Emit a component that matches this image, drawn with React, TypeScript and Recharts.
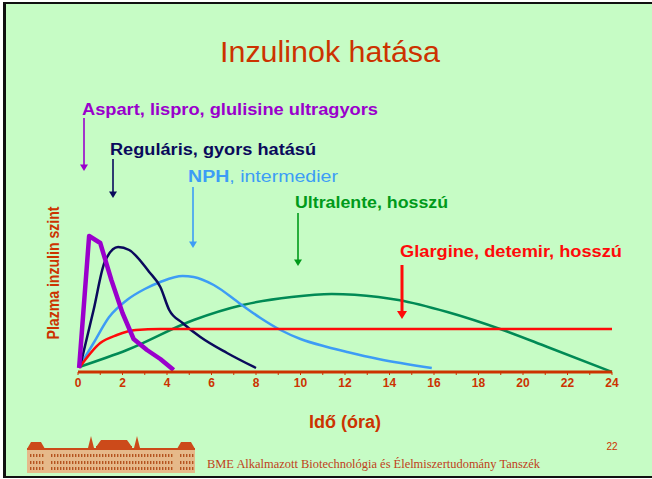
import React from 'react';
import { LineChart, Line, XAxis, YAxis } from 'recharts';

// Hours after injection (x) and plasma insulin level (arbitrary units, y)
const aspartHours = [0.05, 0.5, 1.0, 1.5, 2.0, 2.5, 3.1, 3.7, 4.3];
const aspartLevel = [4, 136, 129, 92, 59, 33, 22, 13, 2];

const regularHours = [0.1, 0.7, 1.2, 1.8, 2.3, 3.2, 3.7, 4.1, 4.7, 5.5, 6.7, 8.0];
const regularLevel = [6, 62, 110, 125, 122, 100, 85, 62, 49, 35, 19, 4];

const nphHours = [0.05, 0.7, 1.4, 2.2, 3.0, 3.7, 4.7, 5.2, 6.1, 7.3, 8.2, 9.1, 10.0, 11.2, 12.1, 13.5, 15.9];
const nphLevel = [5, 29, 55, 72, 83, 90, 96, 95, 87, 68, 54, 42, 33, 25, 20, 13, 4];

const ultraHours = [0.05, 2.2, 5.2, 7.4, 9.6, 11.4, 13.5, 14.4, 16.6, 19.1, 21.1, 24];
const ultraLevel = [5, 22, 52, 67, 75, 78, 75, 72, 60, 42, 25, 0];

const glargineHours = [0.05, 1.0, 1.75, 2.6, 3.7, 24];
const glargineLevel = [4, 29, 37, 42, 43, 43];

const hourTicks = [0, 1, 2, 3, 4, 5, 6, 7, 8, 9, 10, 11, 12, 13, 14, 15, 16, 17, 18, 19, 20, 21, 22, 23, 24];

const title = 'Inzulinok hatása';
const xLabel = 'Idő (óra)';
const yLabel = 'Plazma inzulin szint';
const footer = 'BME Alkalmazott Biotechnológia és Élelmiszertudomány Tanszék';
const pageNo = '22';

const zip = (hs: number[], vs: number[]) => hs.map((h, i) => ({ h, v: vs[i] }));

const aspartData = zip(aspartHours, aspartLevel);
const regularData = zip(regularHours, regularLevel);
const nphData = zip(nphHours, nphLevel);
const ultraData = zip(ultraHours, ultraLevel);
const glargineData = zip(glargineHours, glargineLevel);

const AXIS = '#cc3300';
const FONT = '"Liberation Sans", Arial, sans-serif';

function Arrow({ x, y1, y2, color, w = 1.6, head = 4 }: { x: number; y1: number; y2: number; color: string; w?: number; head?: number }) {
  return (
    <g>
      <line x1={x} y1={y1} x2={x} y2={y2 - head * 1.4} stroke={color} strokeWidth={w} />
      <polygon points={`${x - head},${y2 - head * 1.6} ${x + head},${y2 - head * 1.6} ${x},${y2}`} fill={color} />
    </g>
  );
}

function Building() {
  const facade = '#e6b98a';
  const roof = '#cc4a1a';
  const win = '#b5541f';
  const wins: React.ReactNode[] = [];
  const rows = [454, 461, 467];
  rows.forEach((ry, ri) => {
    for (let x = 30; x < 193; x += 3) {
      if (x > 44 && x < 50) continue;
      if (x > 172 && x < 178) continue;
      wins.push(<rect key={`${ri}-${x}`} x={x} y={ry} width={1.4} height={3} fill={win} />);
    }
  });
  return (
    <g>
      <rect x={27} y={449} width={168} height={24} fill={facade} />
      <rect x={27} y={448} width={168} height={2} fill={roof} />
      <polygon points="27,449 31,442 41,442 45,449" fill={roof} />
      <polygon points="177,449 181,442 191,442 195,449" fill={roof} />
      <polygon points="96,447 101,440 127,440 132,447" fill={roof} />
      <rect x={96} y={446} width={36} height={4} fill={roof} />
      <polygon points="88,448 91,436 94,448" fill={roof} />
      <polygon points="134,448 137,436 140,448" fill={roof} />
      {wins}
    </g>
  );
}

export default function App() {
  return (
    <div style={{ position: 'fixed', left: 0, top: 0, width: 652, height: 479, background: '#ffffff', overflow: 'hidden' }}>
      <svg width={652} height={479} style={{ position: 'absolute', left: 0, top: 0 }}>
        <rect x={0} y={0} width={652} height={479} fill="#ffffff" />
        <rect x={3} y={2} width={649} height={476} fill="#c6fcc5" />
        <rect x={3} y={2} width={649} height={2} fill="#111111" />
        <rect x={3} y={2} width={3} height={476} fill="#111111" />
        <rect x={3} y={476} width={649} height={2} fill="#111111" />
      </svg>
      <div style={{ position: 'absolute', left: 0, top: 0 }}>
        <LineChart width={652} height={479} margin={{ top: 166, right: 40, bottom: 77, left: 78 }}>
          <XAxis
            type="number"
            dataKey="h"
            domain={[0, 24]}
            ticks={hourTicks}
            interval={0}
            tickFormatter={(v: number) => (v % 2 === 0 ? String(v) : '')}
            height={30}
            tickSize={3}
            tickMargin={3}
            axisLine={{ stroke: AXIS, strokeWidth: 3 }}
            tickLine={{ stroke: AXIS, strokeWidth: 1 }}
            tick={{ fill: AXIS, fontSize: 12, fontWeight: 'bold', fontFamily: FONT }}
          />
          <YAxis
            type="number"
            domain={[0, 206]}
            width={0}
            tick={false}
            tickLine={false}
            axisLine={{ stroke: AXIS, strokeWidth: 3 }}
          />
          <Line data={ultraData} dataKey="v" type="monotone" stroke="#008a55" strokeWidth={2.5} dot={false} isAnimationActive={false} />
          <Line data={nphData} dataKey="v" type="monotone" stroke="#3d9cf5" strokeWidth={2.5} dot={false} isAnimationActive={false} />
          <Line data={regularData} dataKey="v" type="monotone" stroke="#0a0a5c" strokeWidth={2.5} dot={false} isAnimationActive={false} />
          <Line data={glargineData} dataKey="v" type="monotone" stroke="#ff0a0a" strokeWidth={2.5} dot={false} isAnimationActive={false} />
          <Line data={aspartData} dataKey="v" type="linear" stroke="#9a00cc" strokeWidth={4.5} strokeLinejoin="round" dot={false} isAnimationActive={false} />
        </LineChart>
      </div>
      <svg width={652} height={479} style={{ position: 'absolute', left: 0, top: 0, pointerEvents: 'none' }}>
        <text x={330} y={62} textAnchor="middle" fontSize={30} fill="#cc3300" fontFamily={FONT} textLength={220} lengthAdjust="spacingAndGlyphs">
          {title}
        </text>

        <text x={82} y={115} fontSize={16} fontWeight="bold" fill="#9a00cc" fontFamily={FONT} textLength={296} lengthAdjust="spacingAndGlyphs">
          Aspart, lispro, glulisine ultragyors
        </text>
        <Arrow x={84} y1={118} y2={171} color="#9a00cc" />

        <text x={110} y={155} fontSize={16} fontWeight="bold" fill="#0a0a5c" fontFamily={FONT} textLength={206} lengthAdjust="spacingAndGlyphs">
          Reguláris, gyors hatású
        </text>
        <Arrow x={113} y1={159} y2={198} color="#0a0a5c" />

        <text x={188} y={182} fontSize={16} fill="#3d9cf5" fontFamily={FONT} textLength={150} lengthAdjust="spacingAndGlyphs">
          <tspan fontWeight="bold">NPH</tspan>, intermedier
        </text>
        <Arrow x={193} y1={187} y2={248} color="#3d9cf5" />

        <text x={295} y={208} fontSize={16} fontWeight="bold" fill="#009a1a" fontFamily={FONT} textLength={153} lengthAdjust="spacingAndGlyphs">
          Ultralente, hosszú
        </text>
        <Arrow x={298} y1={213} y2={266} color="#009a1a" />

        <text x={400} y={257} fontSize={16} fontWeight="bold" fill="#ff0a0a" fontFamily={FONT} textLength={222} lengthAdjust="spacingAndGlyphs">
          Glargine, detemir, hosszú
        </text>
        <Arrow x={402} y1={265} y2={319} color="#ff0a0a" w={3} head={5} />

        <text
          x={59}
          y={273}
          transform="rotate(-90 59 273)"
          textAnchor="middle"
          fontSize={16}
          fontWeight="bold"
          fill={AXIS}
          fontFamily={FONT}
          textLength={133}
          lengthAdjust="spacingAndGlyphs"
        >
          {yLabel}
        </text>

        <text x={345} y={428} textAnchor="middle" fontSize={18} fontWeight="bold" fill={AXIS} fontFamily={FONT} textLength={72} lengthAdjust="spacingAndGlyphs">
          {xLabel}
        </text>

        <Building />

        <text x={207} y={468} fontSize={12} fill="#c0401a" fontFamily='"Liberation Serif", "Times New Roman", serif' textLength={333} lengthAdjust="spacingAndGlyphs">
          {footer}
        </text>
        <text x={612} y={450} textAnchor="middle" fontSize={10} fill="#cc3300" fontFamily={FONT}>
          {pageNo}
        </text>
      </svg>
    </div>
  );
}
